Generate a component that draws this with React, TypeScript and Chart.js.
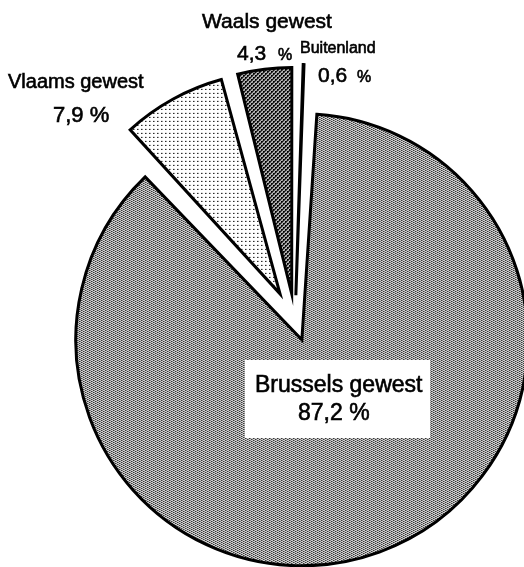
import React, { useEffect, useRef } from "react";
import { Chart, registerables } from "chart.js";

Chart.register(...registerables);

const categories = ["Brussels gewest", "Vlaams gewest", "Waals gewest", "Buitenland"];
const values = [87.2, 7.9, 4.3, 0.6];
const explode = [80, 124, 110, 103];

function makePattern(w: number, h: number, draw: (c: CanvasRenderingContext2D) => void) {
  const cv = document.createElement("canvas");
  cv.width = w;
  cv.height = h;
  const c = cv.getContext("2d")!;
  c.fillStyle = "#fff";
  c.fillRect(0, 0, w, h);
  draw(c);
  return c.createPattern(cv, "repeat")!;
}

const fmt = (v: number) => v.toFixed(1).replace(".", ",");

export default function App() {
  const ref = useRef<HTMLCanvasElement>(null);
  useEffect(() => {
    const canvas = ref.current!;
    const ctx0 = canvas.getContext("2d")!;
    const pBrussels = makePattern(4, 2, (c) => {
      c.fillStyle = "#000";
      c.fillRect(0, 0, 1, 1);
      c.fillRect(2, 1, 1, 1);
      c.fillStyle = "#555";
      c.fillRect(1, 0, 1, 1);
      c.fillRect(3, 1, 1, 1);
    });
    const pVlaams = makePattern(4, 4, (c) => {
      c.fillStyle = "#000";
      c.fillRect(0, 0, 1, 1);
      c.fillStyle = "#888";
      c.fillRect(1, 0, 1, 1);
    });
    const pWaals = makePattern(4, 4, (c) => {
      c.fillStyle = "#000";
      c.fillRect(0, 0, 2, 2);
      c.fillRect(2, 2, 2, 2);
      c.fillRect(2, 0, 1, 1);
      c.fillRect(0, 2, 1, 1);
    });
    const pBuit = makePattern(4, 4, (c) => {
      c.fillStyle = "#000";
      c.fillRect(0, 0, 4, 4);
      c.fillStyle = "#fff";
      c.fillRect(1, 1, 1, 1);
      c.fillRect(3, 3, 1, 1);
    });

    const labelPlugin = {
      id: "labels",
      afterDatasetsDraw(chart: any) {
        const ctx = chart.ctx;
        ctx.save();
        ctx.fillStyle = "#fff";
        ctx.fillRect(245, 360, 185, 78);
        ctx.fillStyle = "#000";
        ctx.strokeStyle = "#000";
        ctx.lineWidth = 0.6;
        ctx.textBaseline = "alphabetic";
        ctx.textAlign = "left";
        const f = (s: number) => `${s}px "Liberation Sans", Arial, sans-serif`;
        const t = (txt: string, x: number, y: number, s: number) => {
          ctx.font = f(s);
          ctx.fillText(txt, x, y);
          ctx.strokeText(txt, x, y);
        };
        // Brussels
        t(categories[0], 255, 392, 23);
        t(fmt(values[0]) + " %", 298, 420, 23);
        // Vlaams
        t(categories[1], 8, 88, 20);
        t(fmt(values[1]) + " %", 53, 122, 22);
        // Waals
        t(categories[2], 202, 28, 21);
        t(fmt(values[2]), 237, 60, 21);
        t("%", 278, 60, 16);
        // Buitenland
        t(categories[3], 300, 53, 16);
        t(fmt(values[3]), 318, 82, 21);
        t("%", 357, 82, 16);
        ctx.restore();
      },
    };

    const chart = new Chart(ctx0, {
      type: "pie",
      data: {
        labels: categories,
        datasets: [
          {
            data: values,
            backgroundColor: [pBrussels, pVlaams, pWaals, pBuit] as any,
            borderColor: "#000",
            borderWidth: 3,
            borderJoinStyle: "miter",
            offset: explode,
            clip: false,
          } as any,
        ],
      },
      options: {
        responsive: false,
        animation: false,
        devicePixelRatio: 1,
        rotation: 3,
        radius: 206,
        layout: { padding: { left: 66, top: 75, right: 0, bottom: 0 } },
        plugins: {
          legend: { display: false },
          tooltip: { enabled: false },
        },
      } as any,
      plugins: [labelPlugin],
    });
    return () => chart.destroy();
  }, []);

  return (
    <div style={{ position: "absolute", left: 0, top: 0, width: 524, height: 567, background: "#fff", overflow: "hidden" }}>
      <canvas ref={ref} width={524} height={567} style={{ display: "block", width: 524, height: 567 }} />
    </div>
  );
}
